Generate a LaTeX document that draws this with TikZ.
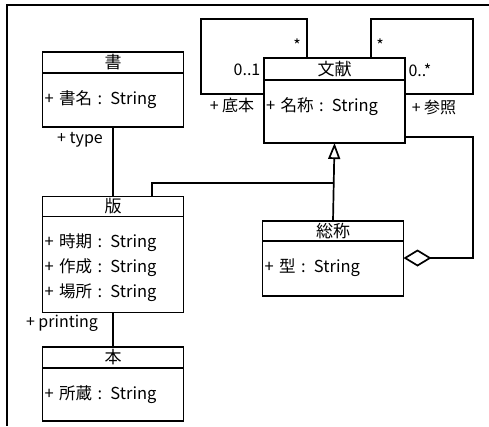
\documentclass[tikz,border=0pt]{standalone}
\usepackage{fontspec}
\setmainfont{Noto Sans CJK JP}
\usepackage{tikz}
\usetikzlibrary{arrows.meta}

\begin{document}
\begin{tikzpicture}[x=1pt,y=-1pt,line width=1.7pt,
  clsname/.style={draw,minimum width=141pt,inner sep=0pt,outer sep=0pt,font=\fontsize{17}{18}\selectfont},
  clsbody/.style={draw,anchor=north,text width=137pt,inner xsep=2pt,inner ysep=0pt,outer sep=0pt,
    align=left,text height=31pt,font=\fontsize{16.5}{25}\selectfont},
  role/.style={inner sep=0pt,font=\fontsize{16}{17}\selectfont}]
\useasboundingbox (0,0) rectangle (489,426);
% frame
\draw[line width=1.2pt] (489,5) -- (7,5) -- (7,426);
% classes
\node[clsname,minimum height=21pt] (sho) at (113,62.5) {書};
\node[clsbody,text depth=23pt] (shobody) at (sho.south) {+ 書名 : String};
\node[clsname,minimum height=20pt] (han) at (113,206.5) {版};
\node[clsbody,text depth=65pt] (hanbody) at (han.south) {+ 時期 : String\\+ 作成 : String\\+ 場所 : String};
\node[clsname,minimum height=21pt] (hon) at (113,357.5) {本};
\node[clsbody,text depth=22pt] (honbody) at (hon.south) {+ 所蔵 : String};
\node[clsname,minimum height=22pt] (bunken) at (334.5,69) {文献};
\node[clsbody,text depth=32pt] (bunbody) at (bunken.south) {+ 名称 : String};
\node[clsname,minimum height=20pt] (sosho) at (333,231) {総称};
\node[clsbody,text depth=24pt] (sobody) at (sosho.south) {+ 型 : String};
% associations
\draw (shobody.south) -- (han.north);
\draw (hanbody.south) -- (hon.north);
\node[role] (type) at (80,140) {+ type};
\node[role] (printing) at (62,323) {+ printing};
% self loops
\coordinate (teihonL) at (201,94);
\coordinate (teihonT) at (307,19);
\draw (bunbody.west |- teihonL) -- (teihonL) |- (teihonT) -- (teihonT |- bunken.north);
\coordinate (sanshoT) at (371,19);
\coordinate (sanshoR) at (473,94);
\draw (sanshoT |- bunken.north) -- (sanshoT) -| (sanshoR) -- (sanshoR -| bunbody.east);
\node[role] (m01) at (247,70) {0..1};
\node[role] (mstarL) at (297,45) {*};
\node[role] (teihon) at (232,105) {+ 底本};
\node[role] (mstarR) at (380,45) {*};
\node[role] (m0n) at (420,70) {0..*};
\node[role] (sansho) at (434,107) {+ 参照};
% generalization
\draw[-{Triangle[open,width=12pt,length=16pt]}] (sosho.north) -- (bunbody.south);
\coordinate (genL) at (152,183);
\coordinate (genR) at (333,183);
\draw (genL |- han.north) -- (genL) -- (genR);
% aggregation
\coordinate (aggB) at (473,258);
\coordinate (aggT) at (473,137);
\draw[{Diamond[open,length=28pt,width=17pt]}-] (sobody.east |- aggB) -- (aggB) -- (aggT) -- (aggT -| bunbody.east);
\end{tikzpicture}
\end{document}
